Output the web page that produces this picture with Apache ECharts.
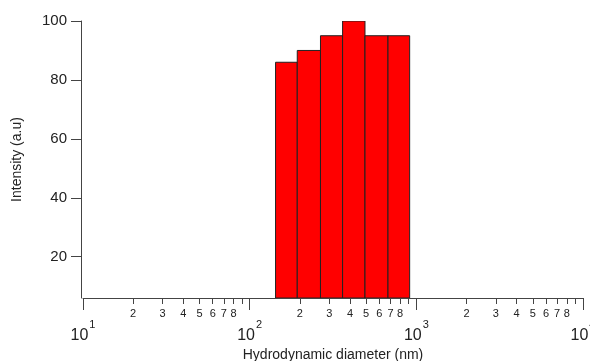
<!DOCTYPE html>
<html>
<head>
<meta charset="utf-8">
<script src="https://cdn.jsdelivr.net/npm/echarts@6/dist/echarts.min.js"></script>
<style>
  html, body { margin: 0; padding: 0; background: #fff; }
  #chart { width: 590px; height: 361px; }
</style>
</head>
<body>
<div id="chart"></div>
<script>
// Size-distribution histogram: bin edges (nm) and intensity per bin
const binEdges = [143, 193, 266, 361, 492, 676, 912];
const intensities = [86, 90, 95, 100, 95, 95];

// Axis ranges and tick values
const xRange = [10, 10000];
const yRange = [6, 100];
const yTicks = [20, 40, 60, 80, 100];
const decadeTicks = [10, 100, 1000, 10000];
const minorTicks = [];
const minorLabelTicks = [];
for (const d of [10, 100, 1000]) {
  for (let m = 2; m <= 9; m++) {
    minorTicks.push(m * d);
    if (m <= 8) minorLabelTicks.push(m * d);
  }
}

const bins = intensities.map((v, i) => [binEdges[i], binEdges[i + 1], v]);

const axisColor = '#444';
const textColor = '#222';
const fontFamily = 'Liberation Sans, Arial, sans-serif';

const chart = echarts.init(document.getElementById('chart'), null, { renderer: 'canvas' });

chart.setOption({
  animation: false,
  backgroundColor: '#fff',
  textStyle: { fontFamily: fontFamily },
  grid: { left: 83, right: 7, top: 21, bottom: 63, containLabel: false, outerBoundsMode: 'none' },
  xAxis: [
    {
      type: 'log',
      logBase: 10,
      min: xRange[0],
      max: xRange[1],
      name: 'Hydrodynamic diameter (nm)',
      nameLocation: 'middle',
      nameGap: 49,
      nameTextStyle: { fontSize: 14, color: textColor, fontFamily: fontFamily },
      axisLine: { show: true, lineStyle: { color: axisColor, width: 1 } },
      axisTick: { show: true, customValues: decadeTicks, length: 12, lineStyle: { color: axisColor } },
      axisLabel: {
        customValues: decadeTicks,
        margin: 21,
        formatter: v => '{b|10}{s|' + Math.round(Math.log10(v)) + '}',
        rich: {
          b: { fontSize: 16, color: textColor, fontFamily: fontFamily },
          s: { fontSize: 11, color: textColor, fontFamily: fontFamily, padding: [0, 0, 22, 1] }
        }
      },
      splitLine: { show: false }
    },
    {
      type: 'log',
      logBase: 10,
      min: xRange[0],
      max: xRange[1],
      position: 'bottom',
      axisLine: { show: false },
      axisTick: { show: true, customValues: minorTicks, length: 6, lineStyle: { color: axisColor } },
      axisLabel: {
        customValues: minorLabelTicks,
        margin: 10,
        fontSize: 11,
        color: textColor,
        formatter: v => String(Math.round(v / Math.pow(10, Math.floor(Math.log10(v) + 1e-9))))
      },
      splitLine: { show: false }
    }
  ],
  yAxis: {
    type: 'value',
    min: yRange[0],
    max: yRange[1],
    offset: 2,
    name: 'Intensity (a.u)',
    nameLocation: 'middle',
    nameRotate: 90,
    nameGap: 57,
    nameTextStyle: { fontSize: 14, color: textColor, fontFamily: fontFamily },
    axisLine: { show: true, lineStyle: { color: axisColor, width: 1 } },
    axisTick: { show: true, customValues: yTicks, length: 10, lineStyle: { color: axisColor } },
    axisLabel: { customValues: yTicks, margin: 14, fontSize: 15, color: textColor },
    splitLine: { show: false }
  },
  series: [
    {
      type: 'custom',
      xAxisIndex: 0,
      yAxisIndex: 0,
      data: bins,
      encode: { x: [0, 1], y: 2 },
      clip: true,
      renderItem: function (params, api) {
        const p0 = api.coord([api.value(0), yRange[0]]);
        const p1 = api.coord([api.value(1), api.value(2)]);
        return {
          type: 'rect',
          shape: { x: p0[0], y: p1[1], width: p1[0] - p0[0], height: p0[1] - p1[1] },
          style: { fill: '#ff0000', stroke: '#222', lineWidth: 1 }
        };
      }
    }
  ]
});
</script>
</body>
</html>
